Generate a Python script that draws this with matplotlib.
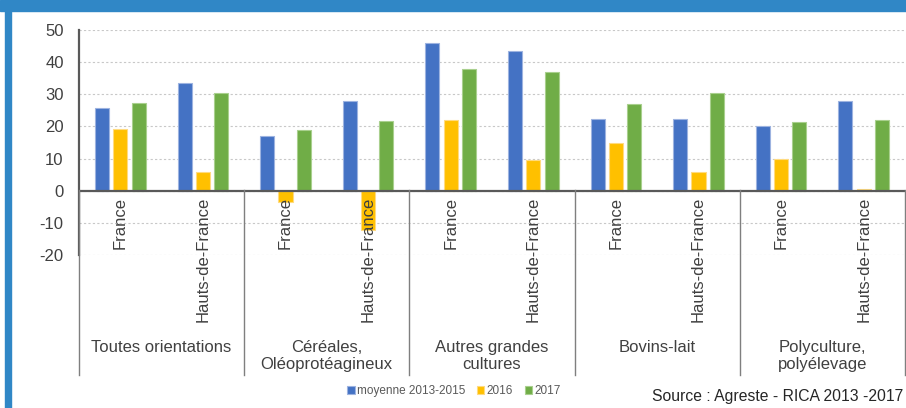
import numpy as np
import matplotlib
matplotlib.use('Agg')
import matplotlib.pyplot as plt
from matplotlib.transforms import blended_transform_factory
from matplotlib.lines import Line2D
from matplotlib.patches import Rectangle

plt.rcParams['font.family'] = ['Liberation Sans', 'DejaVu Sans']
plt.rcParams['axes.unicode_minus'] = False

groups = ['Toutes orientations', 'Céréales,\nOléoprotéagineux', 'Autres grandes\ncultures',
          'Bovins-lait', 'Polyculture,\npolyélevage']
regions = ['France', 'Hauts-de-France']
moyenne = [25.6, 33.6, 17.0, 27.9, 46.1, 43.6, 22.2, 22.4, 20.1, 28.0]
v2016 = [19.1, 5.7, -3.5, -12.2, 21.9, 9.6, 14.9, 5.7, 9.9, 0.4]
v2017 = [27.2, 30.4, 19.0, 21.8, 37.9, 36.9, 26.9, 30.3, 21.4, 22.1]
series = ['moyenne 2013-2015', '2016', '2017']
colors = ['#4472C4', '#FFC000', '#70AD47']
edges = ['#9DB3E0', '#FFDB80', '#A9D08E']

W, H = 906, 408
fig = plt.figure(figsize=(W / 100, H / 100), dpi=100)

def fy(ypx):
    return 1 - ypx / H

# frame decoration
fig.patches.append(Rectangle((0, fy(11)), 1, 11 / H, transform=fig.transFigure,
                             color='#3087C6', zorder=0))
fig.patches.append(Rectangle((5 / W, 0), 6 / W, fy(11), transform=fig.transFigure,
                             color='#3087C6', zorder=0))

ax = fig.add_axes([79 / W, fy(255), (905 - 79) / W, (255 - 30) / H])

x = np.arange(len(moyenne))
w = 0.17
step = 0.222
for i, vals in enumerate([moyenne, v2016, v2017]):
    ax.bar(x + (i - 1) * step, vals, width=w, color=colors[i], edgecolor=edges[i],
           linewidth=0.8, label=series[i], zorder=3)

ax.set_ylim(-20, 50)
ax.set_xlim(-0.5, len(moyenne) - 0.5)
ax.set_yticks(range(-20, 51, 10))
ax.tick_params(axis='y', length=0, pad=11, labelsize=12, labelcolor='#404040')
ax.set_xticks([])
ax.grid(axis='y', color='#C8C8C8', linestyle=(0, (2, 2)), linewidth=0.8, zorder=0)
for s in ['top', 'right', 'bottom']:
    ax.spines[s].set_visible(False)
ax.spines['left'].set_color('#595959')
ax.spines['left'].set_linewidth(1.6)
ax.axhline(0, color='#595959', linewidth=1.6, zorder=4)

tr = blended_transform_factory(ax.transData, fig.transFigure)
for b in np.arange(-0.5, len(moyenne), 2):
    fig.add_artist(Line2D([b, b], [fy(190), fy(375)], transform=tr, color='#7F7F7F',
                          linewidth=1.0))

for i in x:
    fig.text(i, fy(197), regions[i % 2], transform=tr, rotation=90, ha='center',
             va='top', fontsize=12, color='#404040')

for g, name in enumerate(groups):
    fig.text(2 * g + 0.5, fy(340), name, transform=tr, ha='center', va='top',
             fontsize=12, color='#404040', linespacing=1.15)

handles, labels = ax.get_legend_handles_labels()
fig.legend(handles, labels, loc='center', bbox_to_anchor=(454 / W, fy(391)), ncol=3,
           frameon=False, fontsize=8.5, handlelength=0.6, handleheight=0.6,
           handletextpad=0.2, columnspacing=1.0, labelcolor='#595959')

fig.text(903 / W, fy(397), 'Source : Agreste - RICA 2013 -2017', ha='right',
         va='center', fontsize=11.3, color='#262626')

fig.savefig('out.png', dpi=100)
